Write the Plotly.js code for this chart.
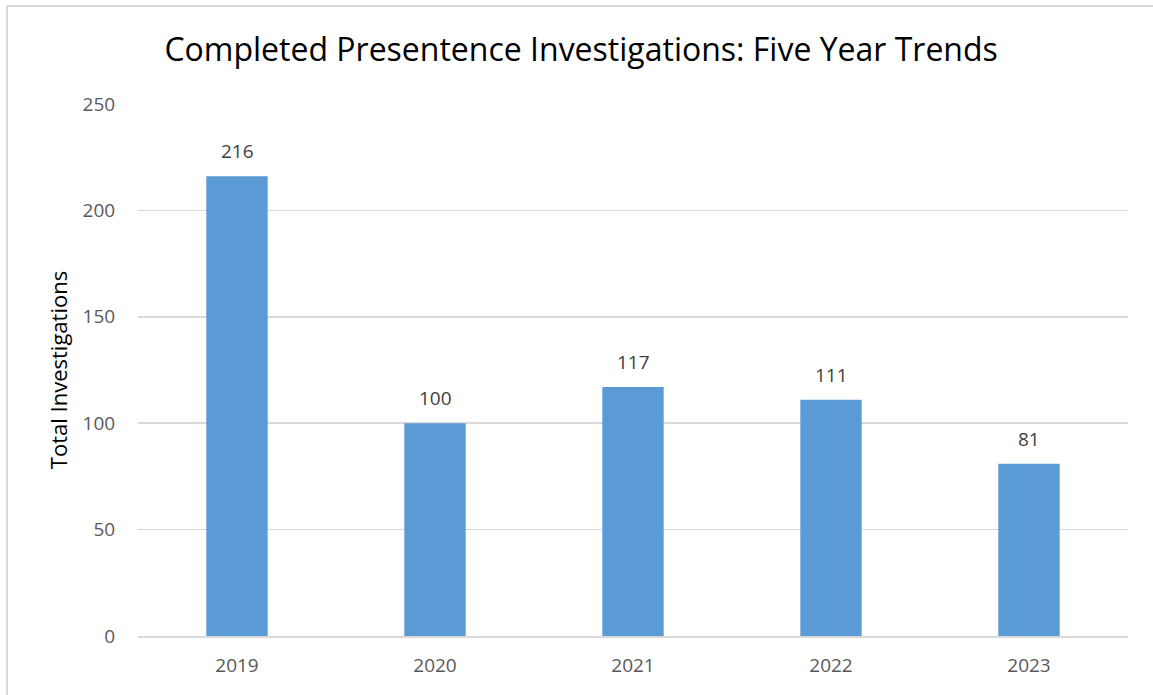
<!DOCTYPE html>
<html><head><meta charset="utf-8">
<script src="https://cdn.plot.ly/plotly-3.0.1.min.js"></script>
<style>
html,body{margin:0;padding:0;background:#fff;overflow:hidden}
#frame{position:absolute;left:6px;top:5px;width:1300px;height:900px;border:2px solid #d9d9d9;box-sizing:border-box;pointer-events:none;z-index:5}
#chart{width:1153px;height:695px}
</style></head><body>
<div id="frame"></div>
<div id="chart"></div>
<script>
const years = ['2019','2020','2021','2022','2023'];
const investigations = [216, 100, 117, 111, 81];
const yTicks = [0, 50, 100, 150, 200, 250];

const font = 'Open Sans, Noto Sans, sans-serif';
Plotly.newPlot('chart', [{
  type: 'bar',
  x: years,
  y: investigations,
  marker: {color: '#5b9bd5'},
  hoverinfo: 'x+y'
}], {
  width: 1153, height: 695,
  margin: {l: 138, r: 25, t: 104, b: 59},
  paper_bgcolor: 'rgba(0,0,0,0)', plot_bgcolor: '#fff',
  bargap: 0.69,
  title: {text: 'Completed Presentence Investigations: Five Year Trends', x: 0.504, xanchor: 'center', y: 0.928, yanchor: 'middle',
          font: {family: font, size: 32, color: '#000'}},
  annotations: years.map((yr, i) => ({
    x: i, y: investigations[i], xref: 'x', yref: 'y',
    text: String(investigations[i]), showarrow: false,
    yanchor: 'bottom', yshift: 10,
    font: {family: font, size: 19, color: '#404040'}
  })),
  xaxis: {type: 'category', range: [-0.5, years.length - 0.5], autorange: false,
          showgrid: false, showline: true, linecolor: '#d9d9d9', linewidth: 1.5,
          tickfont: {family: font, size: 19, color: '#595959'}, ticks: 'outside', ticklen: 12, tickcolor: 'rgba(0,0,0,0)'},
  yaxis: {range: [0, 250], autorange: false, tickvals: yTicks, showgrid: true, gridcolor: '#d9d9d9', gridwidth: 1.5,
          zeroline: false, showline: false, ticks: 'outside', ticklen: 18, tickcolor: 'rgba(0,0,0,0)',
          tickfont: {family: font, size: 19, color: '#595959'},
          title: {text: 'Total Investigations', standoff: 8, font: {family: font, size: 22, color: '#000'}}},
  showlegend: false
}, {displayModeBar: false, staticPlot: true});
</script>
</body></html>
